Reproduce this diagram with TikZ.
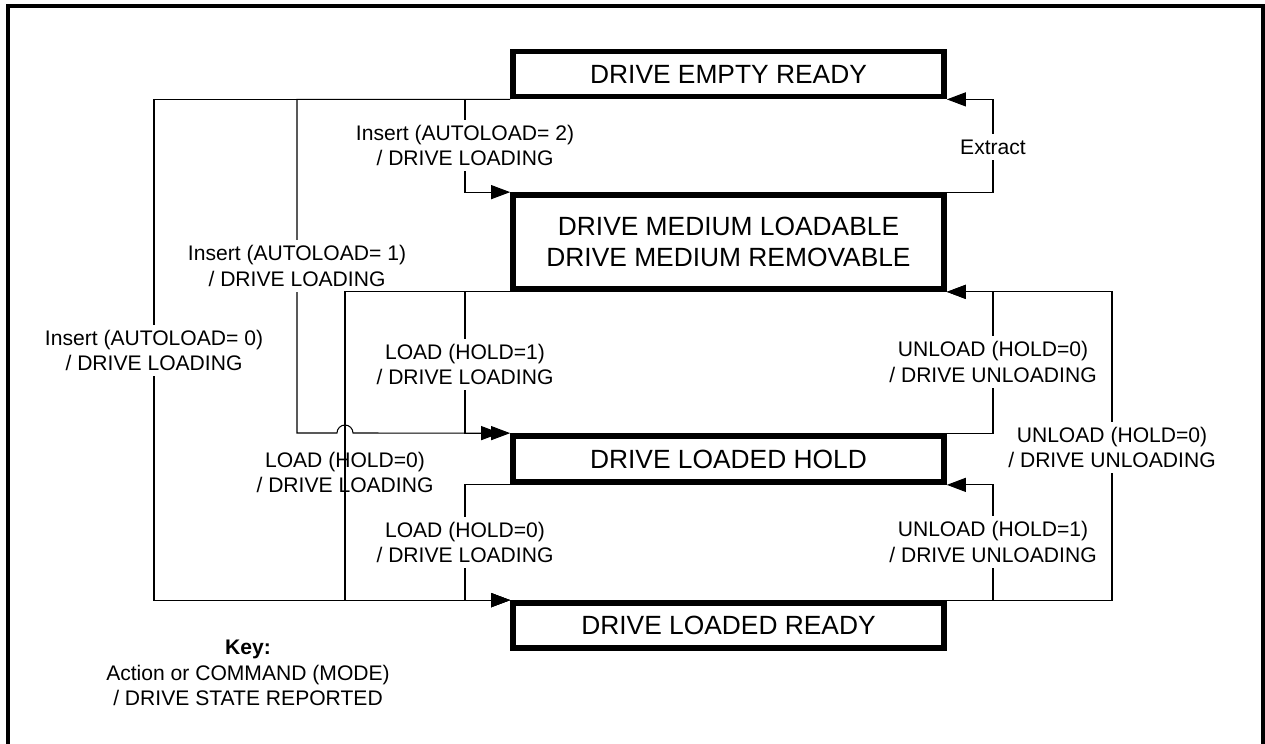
\documentclass[tikz,border=0pt]{standalone}
\usepackage{fontspec}
\setmainfont{Liberation Sans}
\usetikzlibrary{arrows.meta}

\begin{document}
\begin{tikzpicture}[
    x=0.02cm, y=-0.02cm,
    state/.style={draw, line width=0.115cm, minimum width=8.62cm, minimum height=0.9cm, inner sep=0pt, align=center, font=\fontsize{15}{18}\selectfont},
    lbl/.style={fill=white, align=center, inner xsep=2pt, inner ysep=3pt, font=\fontsize{12}{14.5}\selectfont},
    arrow/.style={-{Triangle[length=0.38cm, width=0.28cm]}, line width=0.6pt}
]
    \useasboundingbox (0,0) rectangle (1265,744);

    % Frame
    \draw[line width=0.08cm] (8,760) |- (1263,6) -- (1263,760);

    % States
    \node[state] (empty) at (728.5,74) {DRIVE EMPTY READY};
    \node[state, minimum height=1.88cm] (medium) at (728.5,242) {DRIVE MEDIUM LOADABLE\\DRIVE MEDIUM REMOVABLE};
    \node[state, minimum height=0.92cm] (hold) at (728.5,459) {DRIVE LOADED HOLD};
    \node[state] (ready) at (728.5,625.5) {DRIVE LOADED READY};

    % Insert
    \draw[arrow] (empty.south west) -| (154,350.5) node[lbl] {Insert (AUTOLOAD= 0)\\/ DRIVE LOADING} |- (ready.north west);
    \draw[arrow, shorten >=0.2cm] (empty.south west) -| (297,266) node[lbl] {Insert (AUTOLOAD= 1)\\/ DRIVE LOADING} |- (337,433) arc[start angle=180, end angle=0, radius=0.16cm] -- (hold.north west);
    \draw[arrow] (empty.south west) -| (465,145.5) node[lbl] {Insert (AUTOLOAD= 2)\\/ DRIVE LOADING} |- (medium.north west);

    % Extract
    \draw[arrow] (medium.north east) -| (993,147) node[lbl] {Extract} |- (empty.south east);

    % Load
    \draw[arrow] (medium.south west) -| (465,364.5) node[lbl] {LOAD (HOLD=1)\\/ DRIVE LOADING} |- (hold.north west);
    \draw[arrow] (medium.south west) -| (345,472.5) node[lbl, fill=none] {LOAD (HOLD=0)\\/ DRIVE LOADING} |- (ready.north west);
    \draw[arrow] (hold.south west) -| (465,542.5) node[lbl] {LOAD (HOLD=0)\\/ DRIVE LOADING} |- (ready.north west);

    % Unload
    \draw[arrow] (hold.north east) -| (993,362) node[lbl] {UNLOAD (HOLD=0)\\/ DRIVE UNLOADING} |- (medium.south east);
    \draw[arrow] (ready.north east) -| (1112,447.5) node[lbl] {UNLOAD (HOLD=0)\\/ DRIVE UNLOADING} |- (medium.south east);
    \draw[arrow] (ready.north east) -| (993,542) node[lbl] {UNLOAD (HOLD=1)\\/ DRIVE UNLOADING} |- (hold.south east);

    % Key
    \node[align=center, font=\fontsize{12}{14.5}\selectfont] (key) at (248,673) {\textbf{Key:}\\Action or COMMAND (MODE)\\/ DRIVE STATE REPORTED};
\end{tikzpicture}
\end{document}
